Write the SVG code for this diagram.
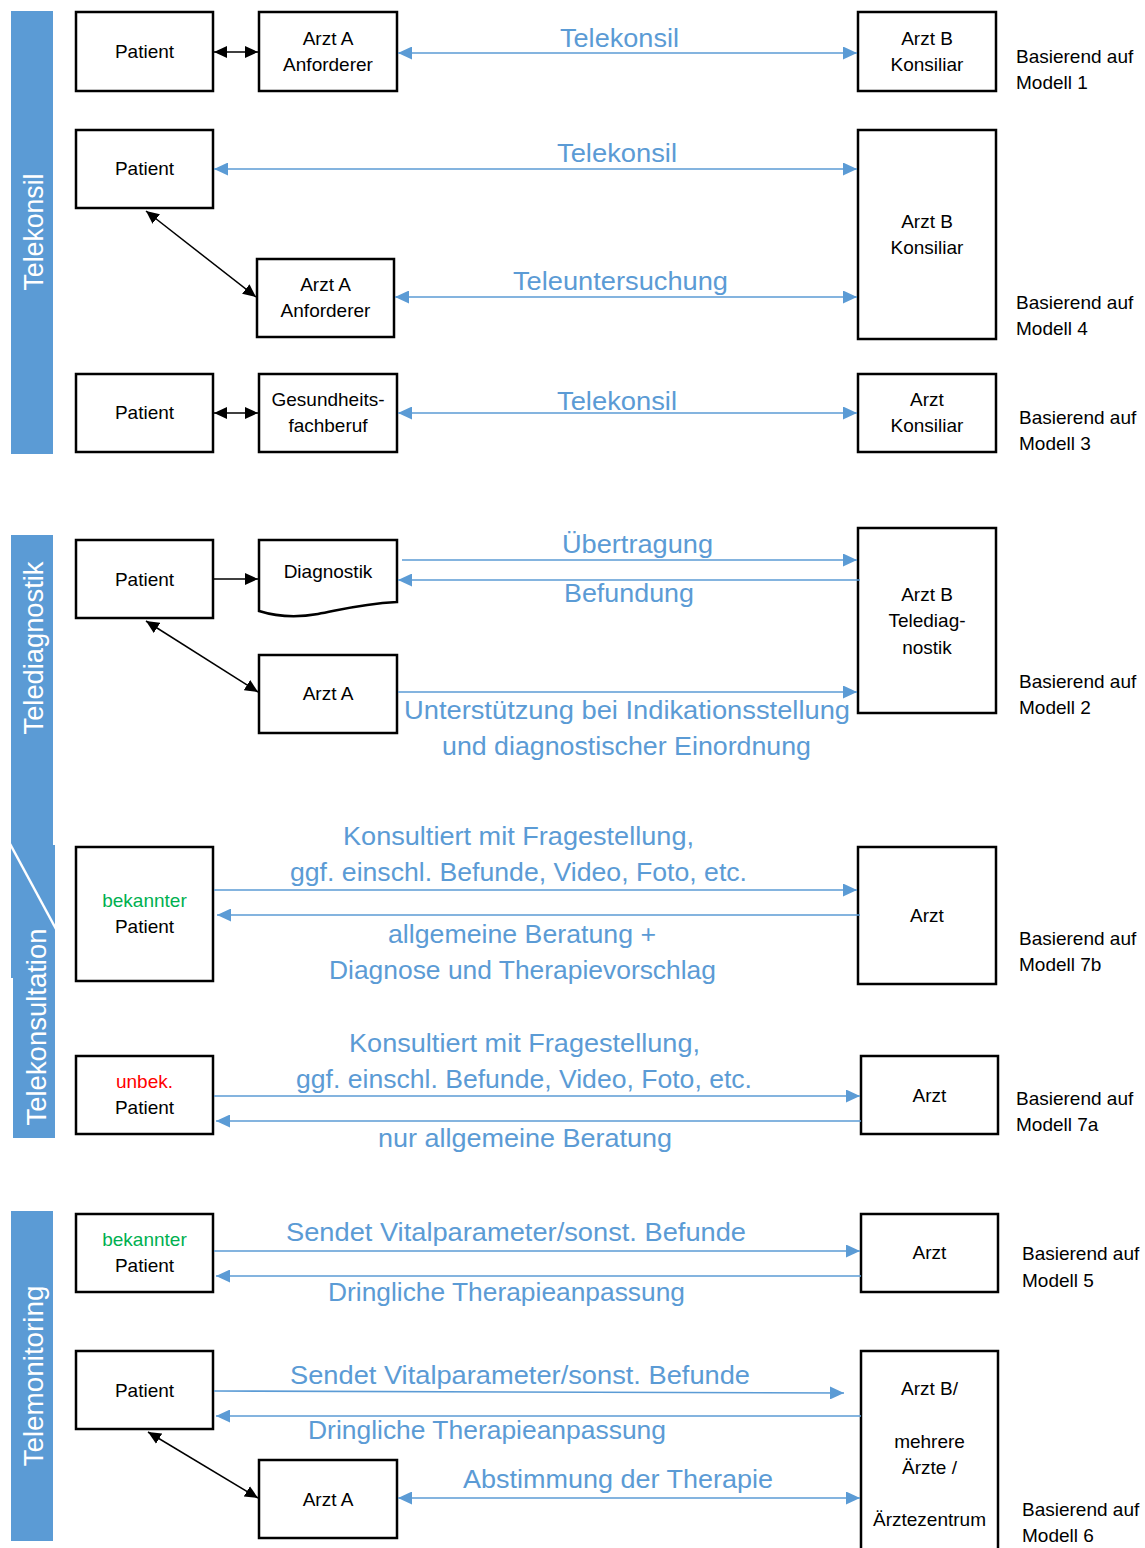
<svg xmlns="http://www.w3.org/2000/svg" width="1145" height="1548" viewBox="0 0 1145 1548">
  <style>
    .box { fill: #ffffff; stroke: #000000; stroke-width: 2.5; }
    .lbl { font-family: "Liberation Sans", Arial, sans-serif; font-size: 19px; fill: #000000; text-anchor: middle; }
    .note { font-family: "Liberation Sans", Arial, sans-serif; font-size: 19px; fill: #000000; }
    .blue { font-family: "Liberation Sans", Arial, sans-serif; font-size: 26px; fill: #5b9bd5; text-anchor: middle; }
    .side { fill: #5b9bd5; }
    .sidetxt { font-family: "Liberation Sans", Arial, sans-serif; font-size: 27px; fill: #ffffff; text-anchor: middle; }
    .bl { stroke: #5b9bd5; stroke-width: 1.6; fill: none; }
    .bk { stroke: #000000; stroke-width: 1.5; fill: none; }
    .green { fill: #00b050; }
    .red { fill: #ff0000; }
  </style>
  <defs>
    <marker id="ab" markerUnits="userSpaceOnUse" markerWidth="14" markerHeight="13" refX="14" refY="6.5" orient="auto-start-reverse">
      <path d="M0,0 L14,6.5 L0,13 z" fill="#5b9bd5"/>
    </marker>
    <marker id="ak" markerUnits="userSpaceOnUse" markerWidth="13" markerHeight="12" refX="13" refY="6" orient="auto-start-reverse">
      <path d="M0,0 L13,6 L0,12 z" fill="#000000"/>
    </marker>
  </defs>

  <rect width="1145" height="1548" fill="#ffffff"/>

  <!-- category bars -->
  <g id="bar-telekonsil">
    <rect class="side" x="11" y="11" width="42" height="443"/>
    <text class="sidetxt" transform="translate(43,232) rotate(-90)" textLength="117" lengthAdjust="spacingAndGlyphs">Telekonsil</text>
  </g>
  <g id="bar-telediagnostik">
    <rect class="side" x="11" y="535" width="42" height="443"/>
    <text class="sidetxt" transform="translate(43,648) rotate(-90)" textLength="173" lengthAdjust="spacingAndGlyphs">Telediagnostik</text>
  </g>
  <g id="bar-telekonsultation">
    <polygon class="side" points="11,845 55,845 55,1138 13,1138 13,978 11,978"/>
    <line x1="9" y1="842" x2="56" y2="929" stroke="#ffffff" stroke-width="2.5"/>
    <text class="sidetxt" transform="translate(46,1027) rotate(-90)" textLength="197" lengthAdjust="spacingAndGlyphs">Telekonsultation</text>
  </g>
  <g id="bar-telemonitoring">
    <rect class="side" x="11" y="1211" width="42" height="330"/>
    <text class="sidetxt" transform="translate(43,1376) rotate(-90)" textLength="181" lengthAdjust="spacingAndGlyphs">Telemonitoring</text>
  </g>

  <!-- model 1 -->
  <g id="m1-patient">
    <rect class="box" x="76" y="12" width="137" height="79"/>
    <text class="lbl" x="144.5" y="58">Patient</text>
  </g>
  <g id="m1-arzt-a">
    <rect class="box" x="259" y="12" width="138" height="79"/>
    <text class="lbl" x="328" y="45">Arzt A</text>
    <text class="lbl" x="328" y="71">Anforderer</text>
  </g>
  <g id="m1-arzt-b">
    <rect class="box" x="858" y="12" width="138" height="79"/>
    <text class="lbl" x="927" y="45">Arzt B</text>
    <text class="lbl" x="927" y="71">Konsiliar</text>
  </g>
  <g id="m1-note">
    <text class="note" x="1016" y="63">Basierend auf</text>
    <text class="note" x="1016" y="89">Modell 1</text>
  </g>

  <!-- model 4 -->
  <g id="m4-patient">
    <rect class="box" x="76" y="130" width="137" height="78"/>
    <text class="lbl" x="144.5" y="175">Patient</text>
  </g>
  <g id="m4-arzt-a">
    <rect class="box" x="257" y="259" width="137" height="78"/>
    <text class="lbl" x="325.5" y="291">Arzt A</text>
    <text class="lbl" x="325.5" y="317">Anforderer</text>
  </g>
  <g id="m4-arzt-b">
    <rect class="box" x="858" y="130" width="138" height="209"/>
    <text class="lbl" x="927" y="228">Arzt B</text>
    <text class="lbl" x="927" y="254">Konsiliar</text>
  </g>
  <g id="m4-note">
    <text class="note" x="1016" y="309">Basierend auf</text>
    <text class="note" x="1016" y="335">Modell 4</text>
  </g>

  <!-- model 3 -->
  <g id="m3-patient">
    <rect class="box" x="76" y="374" width="137" height="78"/>
    <text class="lbl" x="144.5" y="419">Patient</text>
  </g>
  <g id="m3-gesundheitsfachberuf">
    <rect class="box" x="259" y="374" width="138" height="78"/>
    <text class="lbl" x="328" y="406">Gesundheits-</text>
    <text class="lbl" x="328" y="432">fachberuf</text>
  </g>
  <g id="m3-arzt">
    <rect class="box" x="858" y="374" width="138" height="78"/>
    <text class="lbl" x="927" y="406">Arzt</text>
    <text class="lbl" x="927" y="432">Konsiliar</text>
  </g>
  <g id="m3-note">
    <text class="note" x="1019" y="424">Basierend auf</text>
    <text class="note" x="1019" y="450">Modell 3</text>
  </g>

  <!-- model 2 -->
  <g id="m2-patient">
    <rect class="box" x="76" y="540" width="137" height="78"/>
    <text class="lbl" x="144.5" y="586">Patient</text>
  </g>
  <g id="m2-diagnostik">
    <path class="box" d="M259,540 L397,540 L397,602 C360,604 340,610 318,614 C295,618 278,617 259,611 Z"/>
    <text class="lbl" x="328" y="578">Diagnostik</text>
  </g>
  <g id="m2-arzt-a">
    <rect class="box" x="259" y="655" width="138" height="78"/>
    <text class="lbl" x="328" y="700">Arzt A</text>
  </g>
  <g id="m2-arzt-b">
    <rect class="box" x="858" y="528" width="138" height="185"/>
    <text class="lbl" x="927" y="601">Arzt B</text>
    <text class="lbl" x="927" y="627">Telediag-</text>
    <text class="lbl" x="927" y="654">nostik</text>
  </g>
  <g id="m2-note">
    <text class="note" x="1019" y="688">Basierend auf</text>
    <text class="note" x="1019" y="714">Modell 2</text>
  </g>

  <!-- model 7b -->
  <g id="m7b-patient">
    <rect class="box" x="76" y="847" width="137" height="134"/>
    <text class="lbl green" x="144.5" y="907">bekannter</text>
    <text class="lbl" x="144.5" y="933">Patient</text>
  </g>
  <g id="m7b-arzt">
    <rect class="box" x="858" y="847" width="138" height="137"/>
    <text class="lbl" x="927" y="922">Arzt</text>
  </g>
  <g id="m7b-note">
    <text class="note" x="1019" y="945">Basierend auf</text>
    <text class="note" x="1019" y="971">Modell 7b</text>
  </g>

  <!-- model 7a -->
  <g id="m7a-patient">
    <rect class="box" x="76" y="1056" width="137" height="78"/>
    <text class="lbl red" x="144.5" y="1088">unbek.</text>
    <text class="lbl" x="144.5" y="1114">Patient</text>
  </g>
  <g id="m7a-arzt">
    <rect class="box" x="861" y="1056" width="137" height="78"/>
    <text class="lbl" x="929.5" y="1102">Arzt</text>
  </g>
  <g id="m7a-note">
    <text class="note" x="1016" y="1105">Basierend auf</text>
    <text class="note" x="1016" y="1131">Modell 7a</text>
  </g>

  <!-- model 5 -->
  <g id="m5-patient">
    <rect class="box" x="76" y="1214" width="137" height="78"/>
    <text class="lbl green" x="144.5" y="1246">bekannter</text>
    <text class="lbl" x="144.5" y="1272">Patient</text>
  </g>
  <g id="m5-arzt">
    <rect class="box" x="861" y="1214" width="137" height="78"/>
    <text class="lbl" x="929.5" y="1259">Arzt</text>
  </g>
  <g id="m5-note">
    <text class="note" x="1022" y="1260">Basierend auf</text>
    <text class="note" x="1022" y="1287">Modell 5</text>
  </g>

  <!-- model 6 -->
  <g id="m6-patient">
    <rect class="box" x="76" y="1351" width="137" height="78"/>
    <text class="lbl" x="144.5" y="1397">Patient</text>
  </g>
  <g id="m6-arzt-a">
    <rect class="box" x="259" y="1460" width="138" height="78"/>
    <text class="lbl" x="328" y="1506">Arzt A</text>
  </g>
  <g id="m6-arzt-b">
    <rect class="box" x="861" y="1351" width="137" height="210"/>
    <text class="lbl" x="929.5" y="1395">Arzt B/</text>
    <text class="lbl" x="929.5" y="1448">mehrere</text>
    <text class="lbl" x="929.5" y="1474">Ärzte /</text>
    <text class="lbl" x="929.5" y="1526">Ärztezentrum</text>
  </g>
  <g id="m6-note">
    <text class="note" x="1022" y="1516">Basierend auf</text>
    <text class="note" x="1022" y="1542">Modell 6</text>
  </g>

  <!-- connectors -->
  <g id="connectors">
    <!-- model 1 -->
    <line class="bk" x1="214" y1="52" x2="258" y2="52" marker-start="url(#ak)" marker-end="url(#ak)"/>
    <line class="bl" x1="398" y1="53" x2="857" y2="53" marker-start="url(#ab)" marker-end="url(#ab)"/>
    <text class="blue" x="619.5" y="47" textLength="119" lengthAdjust="spacingAndGlyphs">Telekonsil</text>

    <!-- model 4 -->
    <line class="bl" x1="214" y1="169" x2="857" y2="169" marker-start="url(#ab)" marker-end="url(#ab)"/>
    <text class="blue" x="617" y="162" textLength="120" lengthAdjust="spacingAndGlyphs">Telekonsil</text>
    <line class="bk" x1="146" y1="211" x2="256" y2="297" marker-start="url(#ak)" marker-end="url(#ak)"/>
    <line class="bl" x1="395" y1="297" x2="857" y2="297" marker-start="url(#ab)" marker-end="url(#ab)"/>
    <text class="blue" x="620.5" y="290" textLength="215" lengthAdjust="spacingAndGlyphs">Teleuntersuchung</text>

    <!-- model 3 -->
    <line class="bk" x1="214" y1="413" x2="258" y2="413" marker-start="url(#ak)" marker-end="url(#ak)"/>
    <line class="bl" x1="398" y1="413" x2="857" y2="413" marker-start="url(#ab)" marker-end="url(#ab)"/>
    <text class="blue" x="617" y="410" textLength="120" lengthAdjust="spacingAndGlyphs">Telekonsil</text>

    <!-- model 2 -->
    <line class="bk" x1="214" y1="579" x2="258" y2="579" marker-end="url(#ak)"/>
    <line class="bl" x1="402" y1="560" x2="857" y2="560" marker-end="url(#ab)"/>
    <text class="blue" x="637.5" y="553" textLength="151" lengthAdjust="spacingAndGlyphs">Übertragung</text>
    <line class="bl" x1="860" y1="580" x2="398" y2="580" marker-end="url(#ab)"/>
    <text class="blue" x="629" y="602" textLength="130" lengthAdjust="spacingAndGlyphs">Befundung</text>
    <line class="bk" x1="146" y1="621" x2="258" y2="692" marker-start="url(#ak)" marker-end="url(#ak)"/>
    <line class="bl" x1="398" y1="692" x2="857" y2="692" marker-end="url(#ab)"/>
    <text class="blue" x="627" y="719" textLength="446" lengthAdjust="spacingAndGlyphs">Unterstützung bei Indikationsstellung</text>
    <text class="blue" x="626.5" y="755" textLength="369" lengthAdjust="spacingAndGlyphs">und diagnostischer Einordnung</text>

    <!-- model 7b -->
    <text class="blue" x="518.5" y="845" textLength="351" lengthAdjust="spacingAndGlyphs">Konsultiert mit Fragestellung,</text>
    <text class="blue" x="518.5" y="881" textLength="457" lengthAdjust="spacingAndGlyphs">ggf. einschl. Befunde, Video, Foto, etc.</text>
    <line class="bl" x1="214" y1="890" x2="857" y2="890" marker-end="url(#ab)"/>
    <line class="bl" x1="860" y1="915" x2="217" y2="915" marker-end="url(#ab)"/>
    <text class="blue" x="522" y="943" textLength="268" lengthAdjust="spacingAndGlyphs">allgemeine Beratung +</text>
    <text class="blue" x="522.5" y="979" textLength="387" lengthAdjust="spacingAndGlyphs">Diagnose und Therapievorschlag</text>

    <!-- model 7a -->
    <text class="blue" x="524.5" y="1052" textLength="351" lengthAdjust="spacingAndGlyphs">Konsultiert mit Fragestellung,</text>
    <text class="blue" x="524" y="1088" textLength="456" lengthAdjust="spacingAndGlyphs">ggf. einschl. Befunde, Video, Foto, etc.</text>
    <line class="bl" x1="214" y1="1096" x2="860" y2="1096" marker-end="url(#ab)"/>
    <line class="bl" x1="861" y1="1121" x2="216" y2="1121" marker-end="url(#ab)"/>
    <text class="blue" x="525" y="1147" textLength="294" lengthAdjust="spacingAndGlyphs">nur allgemeine Beratung</text>

    <!-- model 5 -->
    <text class="blue" x="516" y="1241" textLength="460" lengthAdjust="spacingAndGlyphs">Sendet Vitalparameter/sonst. Befunde</text>
    <line class="bl" x1="214" y1="1251" x2="860" y2="1251" marker-end="url(#ab)"/>
    <line class="bl" x1="861" y1="1276" x2="216" y2="1276" marker-end="url(#ab)"/>
    <text class="blue" x="506.5" y="1301" textLength="357" lengthAdjust="spacingAndGlyphs">Dringliche Therapieanpassung</text>

    <!-- model 6 -->
    <text class="blue" x="520" y="1384" textLength="460" lengthAdjust="spacingAndGlyphs">Sendet Vitalparameter/sonst. Befunde</text>
    <line class="bl" x1="214" y1="1391" x2="844" y2="1393" marker-end="url(#ab)"/>
    <line class="bl" x1="861" y1="1416" x2="216" y2="1416" marker-end="url(#ab)"/>
    <text class="blue" x="487" y="1439" textLength="358" lengthAdjust="spacingAndGlyphs">Dringliche Therapieanpassung</text>
    <line class="bk" x1="148" y1="1432" x2="258" y2="1498" marker-start="url(#ak)" marker-end="url(#ak)"/>
    <line class="bl" x1="398" y1="1498" x2="860" y2="1498" marker-start="url(#ab)" marker-end="url(#ab)"/>
    <text class="blue" x="618" y="1488" textLength="310" lengthAdjust="spacingAndGlyphs">Abstimmung der Therapie</text>
  </g>
</svg>
